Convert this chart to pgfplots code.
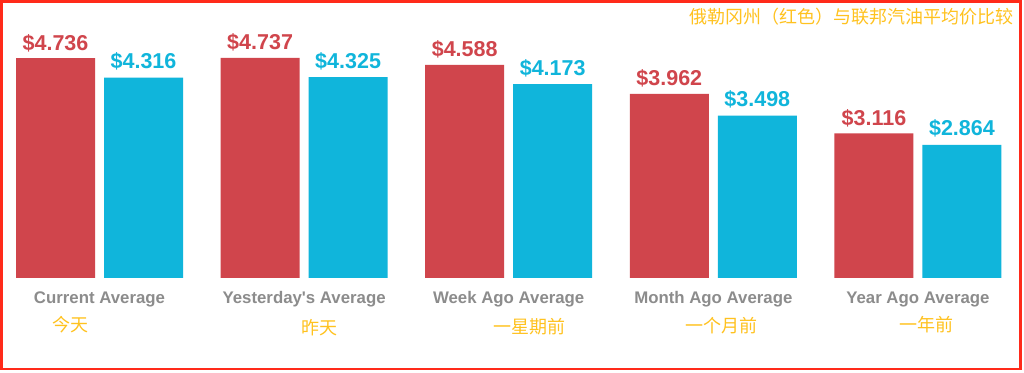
\documentclass[border=0pt]{standalone}
\usepackage{pgfplots}
\pgfplotsset{compat=1.18}
\usepackage{fontspec}
\setmainfont{Liberation Sans}
\newfontfamily\cjk{Noto Sans CJK SC}
\definecolor{ored}{HTML}{D0454C}
\definecolor{oblue}{HTML}{10B5DB}
\definecolor{lgray}{HTML}{8C8C8C}
\definecolor{cjkyel}{HTML}{FFC21F}
\definecolor{bordred}{HTML}{FF2A1A}
\begin{document}
\begin{tikzpicture}[x=1pt,y=1pt]
\path[use as bounding box] (0,0) rectangle (1024,372);
\fill[white] (0,0) rectangle (1024,372);
\begin{axis}[
  at={(99.5pt,94pt)}, anchor=origin,
  scale only axis, width=1024pt, height=278pt,
  xmin=-0.4863, xmax=4.5184, ymin=0, ymax=5.985,
  ybar=9pt, bar width=79pt,
  axis line style={draw=none},
  major tick length=0pt,
  ytick=\empty,
  xtick={0,1,2,3,4},
  xticklabels={Current Average,Yesterday\textquotesingle s Average,Week Ago Average,Month Ago Average,Year Ago Average},
  xticklabel style={anchor=base, yshift=-25pt, text=lgray, font=\bfseries\fontsize{16.8}{18}\selectfont},
  clip=false,
  /pgf/number format/assume math mode=true,
  nodes near coords={\$\pgfmathprintnumber[fixed,precision=3,fixed zerofill]{\pgfplotspointmeta}},
  nodes near coords style={anchor=base, font=\bfseries\fontsize{21.5}{24}\selectfont},
]
\addplot[fill=ored, draw=none, nodes near coords style={text=ored, yshift=8pt}] coordinates {(0,4.736) (1,4.737) (2,4.588) (3,3.962) (4,3.116)};
\addplot[fill=oblue, draw=none, nodes near coords style={text=oblue, yshift=9pt}] coordinates {(0,4.316) (1,4.325) (2,4.173) (3,3.498) (4,2.864)};
\end{axis}
\begin{scope}[every node/.style={text=cjkyel, font=\cjk\fontsize{18}{20}\selectfont, inner sep=0pt}]
\node at (70.5,47.5) {今天};
\node at (319,44.5) {昨天};
\node at (529.5,45) {一星期前};
\node at (721,46) {一个月前};
\node at (926,47.5) {一年前};
\node at (851.5,355.5) {俄勒冈州（红色）与联邦汽油平均价比较};
\end{scope}
\draw[bordred, line width=2.5pt] (1.5,370.5) rectangle (1020.5,3);
\end{tikzpicture}
\end{document}
